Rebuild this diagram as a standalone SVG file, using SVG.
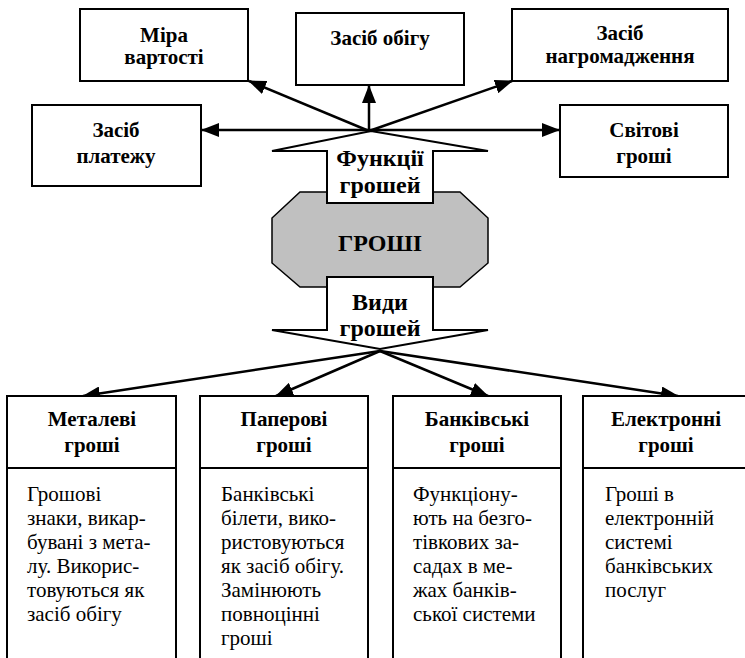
<svg xmlns="http://www.w3.org/2000/svg" width="745" height="658" viewBox="0 0 745 658" font-family="'Liberation Serif', serif">
<style>
text{font-family:'Liberation Serif',serif;fill:#000}
.box{fill:#fff;stroke:#000;stroke-width:2}
.lbl{font-weight:bold;font-size:21px;text-anchor:middle}
.big{font-weight:bold;font-size:24px;text-anchor:middle}
.body{font-size:21px}
.conn{stroke:#000;stroke-width:2.5;fill:none}
.div{stroke:#000;stroke-width:2}
</style>
<defs>
<marker id="ah" viewBox="0 0 18 14" refX="17" refY="7" markerWidth="18" markerHeight="14" markerUnits="userSpaceOnUse" orient="auto">
<path d="M0,0 L18,7 L0,14 z" fill="#000"/>
</marker>
</defs>
<rect width="745" height="658" fill="#fff"/>

<g id="center">
<polygon points="300,192 460,192 488,218 488,263 460,287 300,287 272,263 272,218" fill="#c0c0c0" stroke="#000" stroke-width="1.5"/>
<text class="big" x="380" y="251">ГРОШІ</text>
</g>

<g id="functions">
<polygon points="371,131 488,151 433,151 433,203 327,203 327,151 272,151" fill="#fff" stroke="#000" stroke-width="2"/>
<text class="big" x="380" y="166">Функції</text>
<text class="big" x="380" y="193">грошей</text>
</g>

<g id="kinds">
<polygon points="327,277 433,277 433,330 488,330 380,349 272,330 327,330" fill="#fff" stroke="#000" stroke-width="2"/>
<text class="big" x="380" y="310">Види</text>
<text class="big" x="380" y="336">грошей</text>
</g>

<g id="connectors">
<line class="conn" x1="369" y1="131" x2="249" y2="81" marker-end="url(#ah)"/>
<line class="conn" x1="369" y1="131" x2="369" y2="86" marker-end="url(#ah)"/>
<line class="conn" x1="369" y1="131" x2="512" y2="81" marker-end="url(#ah)"/>
<line class="conn" x1="369" y1="130" x2="202" y2="130" marker-end="url(#ah)"/>
<line class="conn" x1="369" y1="130" x2="559" y2="130" marker-end="url(#ah)"/>
<line class="conn" x1="380" y1="351" x2="83" y2="396" marker-end="url(#ah)"/>
<line class="conn" x1="380" y1="351" x2="276" y2="396" marker-end="url(#ah)"/>
<line class="conn" x1="380" y1="351" x2="488" y2="396" marker-end="url(#ah)"/>
<line class="conn" x1="380" y1="351" x2="678" y2="396" marker-end="url(#ah)"/>
</g>

<g id="mira">
<rect class="box" x="80" y="9" width="168" height="72"/>
<text class="lbl" x="164" y="42">Міра</text>
<text class="lbl" x="164" y="64">вартості</text>
</g>
<g id="obig">
<rect class="box" x="296" y="13" width="168" height="72"/>
<text class="lbl" x="380" y="45">Засіб обігу</text>
</g>
<g id="nagrom">
<rect class="box" x="512" y="9" width="216" height="72"/>
<text class="lbl" x="620" y="40">Засіб</text>
<text class="lbl" x="620" y="63">нагромадження</text>
</g>
<g id="platezh">
<rect class="box" x="32" y="105" width="169" height="81"/>
<text class="lbl" x="116" y="137">Засіб</text>
<text class="lbl" x="116" y="163">платежу</text>
</g>
<g id="svitovi">
<rect class="box" x="560" y="105" width="168" height="72"/>
<text class="lbl" x="644" y="137">Світові</text>
<text class="lbl" x="644" y="163">гроші</text>
</g>

<g id="metal">
<rect class="box" x="7" y="396" width="169" height="300"/>
<line class="div" x1="7" y1="468" x2="176" y2="468"/>
<text class="lbl" x="92" y="426">Металеві</text>
<text class="lbl" x="92" y="452">гроші</text>
<text class="body" y="501"><tspan x="27">Грошові</tspan><tspan x="27" dy="24">знаки, викар-</tspan><tspan x="27" dy="24">бувані з мета-</tspan><tspan x="27" dy="24">лу. Викорис-</tspan><tspan x="27" dy="24">товуються як</tspan><tspan x="27" dy="24">засіб обігу</tspan></text>
</g>
<g id="paper">
<rect class="box" x="200" y="396" width="168" height="300"/>
<line class="div" x1="200" y1="468" x2="368" y2="468"/>
<text class="lbl" x="284" y="426">Паперові</text>
<text class="lbl" x="284" y="452">гроші</text>
<text class="body" y="501"><tspan x="221">Банківські</tspan><tspan x="221" dy="24">білети, вико-</tspan><tspan x="221" dy="24">ристовуються</tspan><tspan x="221" dy="24">як засіб обігу.</tspan><tspan x="221" dy="24">Замінюють</tspan><tspan x="221" dy="24">повноцінні</tspan><tspan x="221" dy="24">гроші</tspan></text>
</g>
<g id="bank">
<rect class="box" x="393" y="396" width="168" height="300"/>
<line class="div" x1="393" y1="468" x2="561" y2="468"/>
<text class="lbl" x="477" y="426">Банківські</text>
<text class="lbl" x="477" y="452">гроші</text>
<text class="body" y="501"><tspan x="413">Функціону-</tspan><tspan x="413" dy="24">ють на безго-</tspan><tspan x="413" dy="24">тівкових за-</tspan><tspan x="413" dy="24">садах в ме-</tspan><tspan x="413" dy="24">жах банків-</tspan><tspan x="413" dy="24">ської системи</tspan></text>
</g>
<g id="electron">
<rect class="box" x="583" y="396" width="180" height="300"/>
<line class="div" x1="583" y1="468" x2="763" y2="468"/>
<text class="lbl" x="666" y="426">Електронні</text>
<text class="lbl" x="666" y="452">гроші</text>
<text class="body" y="501"><tspan x="605">Гроші в</tspan><tspan x="605" dy="24">електронній</tspan><tspan x="605" dy="24">системі</tspan><tspan x="605" dy="24">банківських</tspan><tspan x="605" dy="24">послуг</tspan></text>
</g>
</svg>
